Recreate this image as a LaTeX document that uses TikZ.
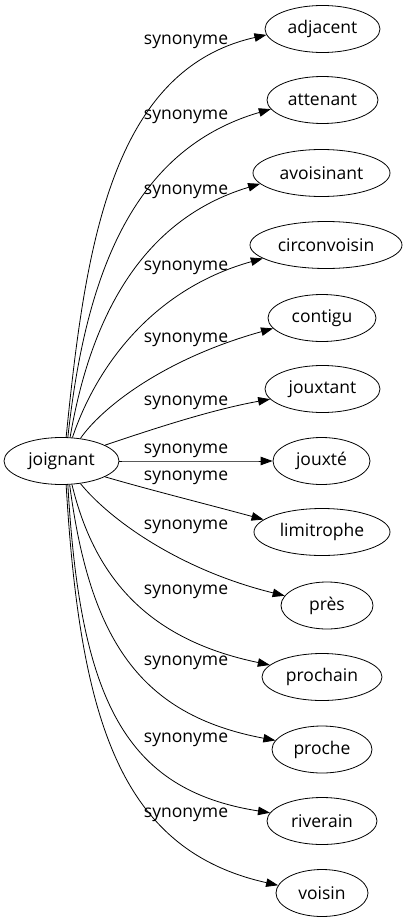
\documentclass[tikz,border=0pt]{standalone}
\usepackage{fontspec}
\setmainfont{Open Sans}
\usetikzlibrary{shapes.geometric,arrows.meta}

\begin{document}
\begin{tikzpicture}[
    x=1pt, y=1pt,
    % Define the styles for words, links and link names
    word/.style={ellipse, draw, line width=0.8pt, inner sep=0pt, minimum height=47pt},
    connection/.style={-{Triangle[length=12pt,width=8.5pt]}, line width=0.8pt},
    relation/.style={inner sep=0pt},
    font=\fontsize{17.5}{21}\selectfont,
    ]
    \useasboundingbox (0,0) rectangle (406,-923);

    % Source word
    \node[word, minimum width=115pt] (J) at (61.5,-461) {joignant};

    % Synonyms
    \foreach \i/\x/\y/\w/\t in {1/322.5/29/115/adjacent, 2/322.5/100/111/attenant,
        3/321.5/173/137/avoisinant, 4/326/245/152/circonvoisin, 5/322/318/108/contigu,
        6/322.5/389/115/jouxtant, 7/321.5/461/97/jouxté, 8/322/532/136/limitrophe,
        9/327/605.5/92/près, 10/322/677/120/prochain, 11/322/749.5/100/proche,
        12/322/821/110/riverain, 13/322/893/92/voisin}
        \node[word, minimum width=\w pt] (S-\i) at (\x,-\y) {\t};

    % Link names
    \foreach \i/\y in {1/42, 2/117, 3/192, 4/268, 5/340, 6/403, 7/451,
        8/478, 9/527, 10/592, 11/663, 12/740, 13/815}
        \node[relation] (L-\i) at (186,-\y) {synonyme};

    % Connect the source word to the synonyms
    \foreach \i/\s/\e/\ax/\ay/\bx/\by in {1/79/186/85/250/110/70,
        2/75/190/85/280/130/150, 3/70/190/90/320/140/220,
        4/65/192/95/370/150/290, 5/50/192/100/410/160/360,
        6/20/191/150/430/210/410, 7/0/180/170/461/220/461,
        8/340/168/150/490/210/505, 9/310/167/110/520/180/570,
        10/294/167/95/580/150/640, 11/289/169/90/640/140/715,
        12/285/171/80/700/125/790, 13/281/170/80/720/120/850}
        \draw[connection] (J.\s) .. controls (\ax,-\ay) and (\bx,-\by) .. (S-\i.\e);

\end{tikzpicture}
\end{document}
